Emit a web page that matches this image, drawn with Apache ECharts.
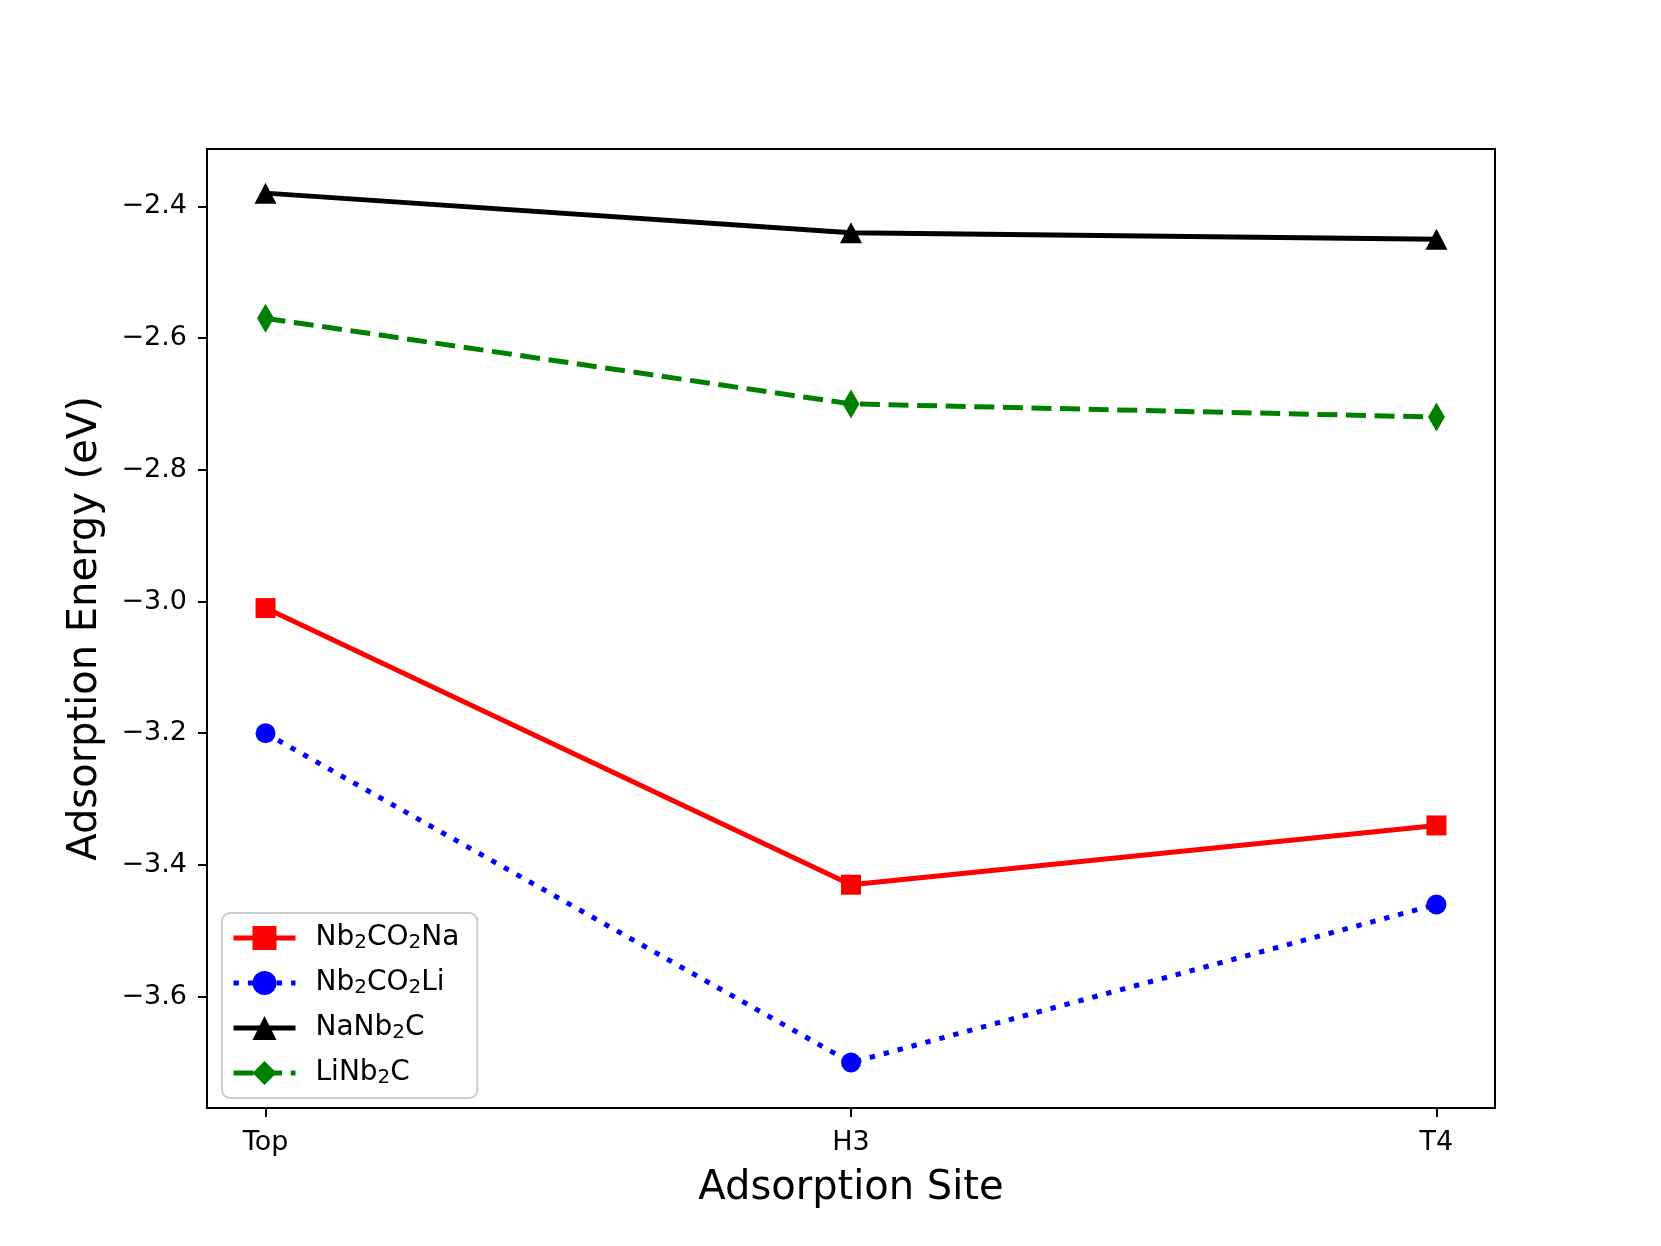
<!DOCTYPE html>
<html>
<head>
<meta charset="utf-8">
<script src="https://cdn.jsdelivr.net/npm/echarts@6/dist/echarts.min.js"></script>
<style>
html,body{margin:0;padding:0;background:#fff;}
#chart{width:1661px;height:1246px;}
</style>
</head>
<body>
<div id="chart"></div>
<script>
const categories = ['Top', 'H3', 'T4'];
const nb2co2na = [-3.01, -3.43, -3.34];
const nb2co2li = [-3.20, -3.70, -3.46];
const nanb2c = [-2.38, -2.44, -2.45];
const linb2c = [-2.57, -2.70, -2.72];
const yTicks = [-3.6, -3.4, -3.2, -3.0, -2.8, -2.6, -2.4];
const seriesNames = ['Nb2CO2Na', 'Nb2CO2Li', 'NaNb2C', 'LiNb2C'];
const legendRich = {
  'Nb2CO2Na': 'Nb{s|2}CO{s|2}Na',
  'Nb2CO2Li': 'Nb{s|2}CO{s|2}Li',
  'NaNb2C': 'NaNb{s|2}C',
  'LiNb2C': 'LiNb{s|2}C'
};

function pts(vals) { return vals.map((v, i) => [i, v]); }
const font = 'DejaVu Sans';

const chart = echarts.init(document.getElementById('chart'));
chart.setOption({
  animation: false,
  backgroundColor: '#fff',
  grid: { left: 207, right: 166, top: 149, bottom: 138, show: true, borderColor: '#000', borderWidth: 2, backgroundColor: 'transparent' },
  xAxis: {
    type: 'value', min: -0.1, max: 2.1,
    name: 'Adsorption Site', nameLocation: 'middle', nameGap: 61,
    nameTextStyle: { fontFamily: font, fontSize: 40, color: '#000' },
    axisLine: { show: true, onZero: false, lineStyle: { color: '#000', width: 2 } },
    axisTick: { show: true, customValues: [0, 1, 2], length: 9, inside: false, lineStyle: { color: '#000', width: 2 } },
    axisLabel: { customValues: [0, 1, 2], formatter: v => categories[Math.round(v)], fontFamily: font, fontSize: 27, color: '#000', margin: 21 },
    splitLine: { show: false }
  },
  yAxis: {
    type: 'value', min: -3.769, max: -2.313,
    name: 'Adsorption Energy (eV)', nameLocation: 'middle', nameGap: 101, nameRotate: 90,
    nameTextStyle: { fontFamily: font, fontSize: 40, color: '#000' },
    axisLine: { show: true, onZero: false, lineStyle: { color: '#000', width: 2 } },
    axisTick: { show: true, customValues: yTicks, length: 9, lineStyle: { color: '#000', width: 2 } },
    axisLabel: { customValues: yTicks, formatter: v => v.toFixed(1).replace('-', '\u2212'), fontFamily: font, fontSize: 27, color: '#000', margin: 20 },
    splitLine: { show: false }
  },
  legend: {
    orient: 'vertical', left: 222, top: 913,
    data: seriesNames,
    itemWidth: 62, itemHeight: 30, itemGap: 16,
    padding: [11, 18, 10, 9],
    backgroundColor: 'rgba(255,255,255,0.8)', borderColor: '#cccccc', borderWidth: 2, borderRadius: 8,
    lineStyle: { width: 5 },
    formatter: n => legendRich[n],
    textStyle: { fontFamily: font, fontSize: 28, color: '#000', padding: [0, 0, 0, 15],
      rich: { s: { fontFamily: font, fontSize: 20, color: '#000', verticalAlign: 'bottom', padding: [10, 0, 0, 0] } } }
  },
  series: [
    { name: 'Nb2CO2Na', type: 'line', data: pts(nb2co2na), symbol: 'rect', symbolSize: 20,
      lineStyle: { color: '#ff0000', width: 5 }, itemStyle: { color: '#ff0000' } },
    { name: 'Nb2CO2Li', type: 'line', data: pts(nb2co2li), symbol: 'circle', symbolSize: 20,
      lineStyle: { color: '#0000ff', width: 5, type: [5.4, 9], cap: 'butt' }, itemStyle: { color: '#0000ff' } },
    { name: 'NaNb2C', type: 'line', data: pts(nanb2c), symbol: 'triangle', symbolSize: [22, 21],
      lineStyle: { color: '#000000', width: 5 }, itemStyle: { color: '#000000' } },
    { name: 'LiNb2C', type: 'line', data: pts(linb2c), symbol: 'diamond', symbolSize: [17, 29],
      lineStyle: { color: '#008000', width: 5, type: [20, 8.6] }, itemStyle: { color: '#008000' } }
  ]
});
</script>
</body>
</html>
